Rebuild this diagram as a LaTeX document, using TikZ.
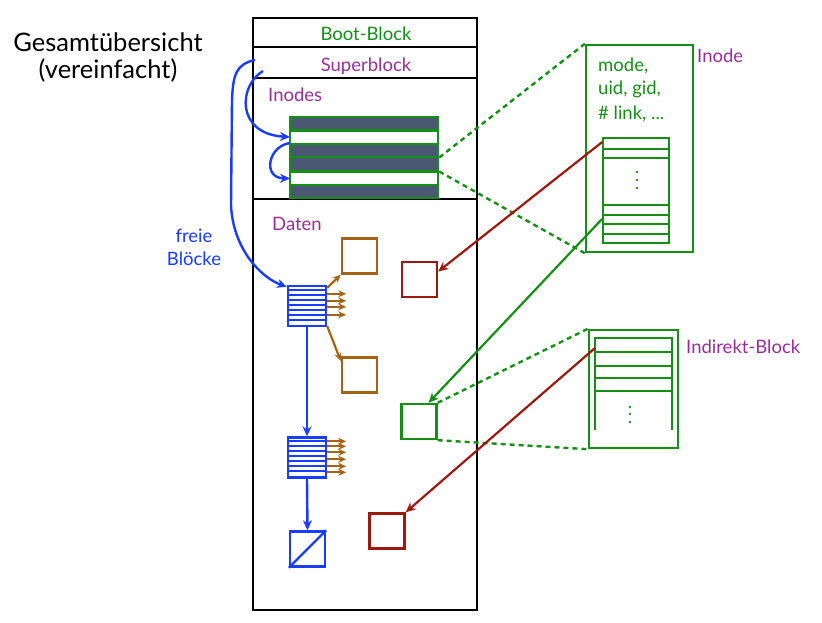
\documentclass[tikz,border=0pt]{standalone}
\usepackage{fontspec}
\setmainfont{Lato}
\usetikzlibrary{arrows.meta,calc}
\definecolor{dgreen}{RGB}{20,145,20}
\definecolor{purp}{RGB}{155,45,155}
\definecolor{fblue}{RGB}{25,60,255}
\definecolor{brn}{RGB}{165,100,20}
\definecolor{dred}{RGB}{155,25,15}
\definecolor{slate}{RGB}{75,88,115}
\begin{document}
\begin{tikzpicture}[x=1pt,y=-1pt,
  lbl/.style={font=\fontsize{18.5}{22}\selectfont, inner sep=0pt, anchor=base west},
  ttl/.style={font=\fontsize{25.5}{30}\selectfont, inner sep=0pt, anchor=base},
  blk/.style={draw, line width=2.4pt, inner sep=0pt, minimum width=35pt, minimum height=35pt},
  blist/.style={draw=fblue, line width=2.4pt, inner sep=0pt, minimum width=38pt, minimum height=40pt},
  barr/.style={fblue, line width=2.4pt, -{Stealth[length=10pt,width=9pt]}},
  brarr/.style={brn, line width=2.2pt, -{Stealth[length=8pt,width=7pt]}},
  rarr/.style={dred, line width=2.2pt, -{Stealth[length=10pt,width=9pt]}},
  garr/.style={dgreen, line width=2.2pt, -{Stealth[length=10pt,width=9pt]}},
  gdash/.style={dgreen, line width=2.4pt, dash pattern=on 5pt off 4pt},
  thinl/.style={dgreen, line width=1.8pt}
]
\useasboundingbox (0,0) rectangle (822,623);

% title
\node[ttl] (t1) at (108,52) {Gesamtübersicht};
\node[ttl] (t2) at (108,79) {(vereinfacht)};

% main disk box
\draw[line width=2.6pt] (253,18) rectangle (477,610);
\draw[line width=2.6pt] (253,47) -- (477,47);
\draw[line width=2.6pt] (253,78) -- (477,78);
\draw[line width=2.6pt] (253,199) -- (477,199);
\node[lbl, dgreen, anchor=base] (boot) at (366,40.7) {Boot-Block};
\node[lbl, purp, anchor=base] (super) at (366,71.5) {Superblock};
\node[lbl, purp] (inodes) at (268,102) {Inodes};
\node[lbl, purp] (daten) at (272,230) {Daten};
\node[lbl, fblue, anchor=base] (fr1) at (194,242) {freie};
\node[lbl, fblue, anchor=base] (fr2) at (194,265) {Blöcke};

% inode stack
\fill[slate] (290,117) rectangle (438,130.5);
\fill[slate] (290,144) rectangle (438,171.5);
\fill[slate] (290,185) rectangle (438,198);
\node[draw=dgreen, line width=2.4pt, inner sep=0pt, minimum width=148pt, minimum height=81pt] (stack) at (364,157.5) {};
\foreach \yy in {130.7,144,157.3,171.7,185} \draw[dgreen, line width=2.4pt] (290,\yy) -- (438,\yy);
\coordinate (w1) at (290,137);
\coordinate (w1b) at (290,143);
\coordinate (w2) at (290,178.5);
\coordinate (sb1) at (255,60);
\coordinate (sb2) at (263,71);

% blue pointers in inode area
\draw[barr] (sb2) .. controls (238,86) and (236,134) .. (w1);
\draw[barr] (w1b) .. controls (268,146) and (262,178) .. (w2);

% free block lists
\node[blist] (L1) at (307,306) {};
\node[blist] (L2) at (307,457.5) {};
\foreach \i in {1,...,7} {
  \draw[fblue, line width=2.2pt] ($(L1.north west)+(0,5*\i)$) -- ($(L1.north east)+(0,5*\i)$);
  \draw[fblue, line width=2.2pt] ($(L2.north west)+(0,5*\i)$) -- ($(L2.north east)+(0,5*\i)$);
}
\node[blk, draw=fblue] (last) at (307.5,549) {};
\draw[fblue, line width=2.4pt] (last.south west) -- (last.north east);
\draw[barr] (sb1) .. controls (236,64) and (233,75) .. (232,100) -- (231,205) .. controls (233,250) and (262,278) .. ($(L1.north west)+(0,2)$);
\draw[barr] (L1.south) -- (L2.north);
\draw[barr] (L2.south) -- (last.north);

% brown data blocks
\node[blk, draw=brn] (b1) at (359.5,256) {};
\node[blk, draw=brn] (b2) at (359.5,375) {};
\draw[brarr] ($(L1.north east)+(0,3)$) -- (b1.south west);
\draw[brarr] ($(L1.south east)+(0,-1)$) -- (b2.143);
\foreach \dy in {9,16,22,30} \draw[brarr] ($(L1.north east)+(0,\dy)$) -- ++(19,0);
\foreach \dy in {5,10,16,23,30,36} \draw[brarr] ($(L2.north east)+(0,\dy)$) -- ++(19,0);

% red and green blocks
\node[blk, draw=dred] (r1) at (419.5,279.5) {};
\node[blk, draw=dgreen] (g1) at (419,421.5) {};
\node[blk, draw=dred] (r2) at (387,531) {};

% inode detail
\node[draw=dgreen, line width=2.4pt, inner sep=0pt, minimum width=107pt, minimum height=207pt] (ibox) at (639.5,148.5) {};
\node[lbl, dgreen] (m1) at (598,71.7) {mode,};
\node[lbl, dgreen] (m2) at (598,95) {uid, gid,};
\node[lbl, dgreen] (m3) at (598,120) {\# link, ...};
\node[lbl, purp] (inl) at (697,63) {Inode};
\node[draw=dgreen, line width=1.8pt, inner sep=0pt, minimum width=66pt, minimum height=105pt] (itab) at (636,190.5) {};
\foreach \yy in {149,158,205,215,224,234} \draw[thinl] (itab.west |- 0,\yy) -- (itab.east |- 0,\yy);
\foreach \yy in {172,180,188} \fill[dgreen] (637,\yy) circle (1.4pt);

% indirect block detail
\node[draw=dgreen, line width=2.4pt, inner sep=0pt, minimum width=89pt, minimum height=118pt] (ib) at (633.5,389) {};
\draw[dgreen, line width=2.4pt] (595,430) -- (595,338) -- (672,338) -- (672,430);
\foreach \yy in {352,366,378,391} \draw[dgreen, line width=2.4pt] (595,\yy) -- (672,\yy);
\foreach \yy in {407,414,422} \fill[dgreen] (630,\yy) circle (1.4pt);
\node[lbl, purp] (ibl) at (686,353) {Indirekt-Block};
\coordinate (ibp) at (595,348);

% dashed zoom lines
\draw[gdash] (stack.east) -- (ibox.north west);
\draw[gdash] ($(stack.east)+(0,14)$) -- (ibox.south west);
\draw[gdash] (g1.north east) -- (ib.north west);
\draw[gdash] (g1.south east) -- (ib.south west);

% pointers
\draw[rarr] (itab.125) -- (r1.23);
\draw[garr] (itab.220) -- (g1.63);
\draw[rarr] (ibp) -- (r2.north east);
\end{tikzpicture}
\end{document}
